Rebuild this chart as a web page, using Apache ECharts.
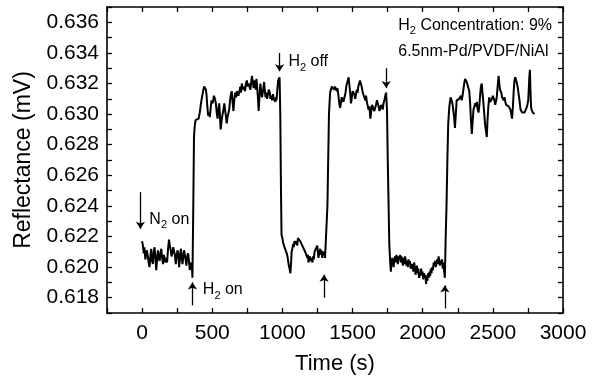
<!DOCTYPE html>
<html lang="en">
<head>
  <meta charset="UTF-8">
  <title>Reflectance vs time</title>
  <script src="https://cdn.jsdelivr.net/npm/echarts@6/dist/echarts.min.js"></script>
  <style>
    html, body { margin: 0; background: #fff; }
    #main { width: 598px; height: 382px; }
  </style>
</head>
<body>
  <div id="main"></div>
  <script>
    // reflectance trace [time (s), reflectance (mV)], split by gas phase
    const n2Baseline = [
      [0, .6217], [6, .6214], [12, .6209], [17, .6213], [23, .6205], [29, .6206], [35, .6211], [41, .6212],
      [47, .6203], [53, .6200], [59, .6207], [65, .6212], [71, .6204], [77, .6202], [83, .6210], [89, .6213],
      [95, .6206], [101, .6198], [107, .6205], [113, .6211], [119, .6207], [125, .6204], [131, .6209], [137, .6212],
      [143, .6206], [149, .6202], [155, .6208], [161, .6209], [167, .6203], [173, .6206], [178, .6203], [185, .6212],
      [192, .6218], [198, .6214], [204, .6211], [210, .6207], [216, .6209], [222, .6213], [228, .6214], [234, .6208],
      [240, .6202], [246, .6207], [252, .6211], [258, .6209], [264, .6200], [270, .6205], [276, .6212], [282, .6208],
      [288, .6202], [294, .6207], [299, .6211], [304, .6210], [310, .6205], [316, .6201], [322, .6207], [328, .6209],
      [334, .6204], [340, .6198], [346, .6203], [352, .6204], [356, .6199], [359, .6193]
    ]
    const firstH2 = [
      [365, .6240], [370, .6285], [375, .6292], [381, .6296], [387, .6297], [395, .6296], [403, .6297], [411, .6301],
      [417, .6305], [423, .6309], [429, .6312], [435, .6315], [442, .6318], [450, .6319], [455, .6316], [459, .6313],
      [465, .6305], [471, .6299], [477, .6301], [483, .6298], [489, .6304], [495, .6309], [503, .6307], [512, .6312],
      [519, .6310], [526, .6307], [532, .6301], [538, .6297], [544, .6303], [550, .6307], [555, .6299], [560, .6290],
      [567, .6296], [574, .6300], [580, .6303], [586, .6307], [591, .6307], [597, .6299], [603, .6294], [609, .6298],
      [615, .6297], [621, .6303], [627, .6309], [633, .6313], [639, .6315], [645, .6308], [651, .6302], [657, .6309],
      [663, .6314], [670, .6311], [676, .6315], [680, .6316], [687, .6312], [694, .6315], [700, .6318], [705, .6314],
      [711, .6320], [717, .6316], [722, .6318], [728, .6319], [734, .6315], [740, .6320], [747, .6322], [753, .6318],
      [760, .6320], [767, .6320], [772, .6316], [778, .6321], [783, .6325], [789, .6321], [795, .6317], [800, .6322],
      [806, .6320], [811, .6316], [815, .6323], [820, .6318], [826, .6310], [831, .6302], [837, .6312], [843, .6320],
      [849, .6315], [855, .6311], [860, .6314], [866, .6318], [870, .6321], [874, .6316], [880, .6311], [886, .6314],
      [891, .6310], [897, .6313], [903, .6316], [910, .6314], [915, .6310], [921, .6312], [927, .6309], [933, .6313],
      [938, .6310], [944, .6311], [950, .6308], [955, .6311], [958, .6309], [964, .6316], [970, .6322], [976, .6323],
      [980, .6324], [985, .6300]
    ]
    const firstOff = [
      [990, .6250], [994, .6221], [1000, .6219], [1005, .6216], [1010, .6215], [1015, .6213], [1020, .6214], [1026, .6212],
      [1031, .6209], [1036, .6207], [1041, .6206], [1046, .6201], [1051, .6199], [1057, .6196], [1062, .6203], [1066, .6210],
      [1071, .6212], [1076, .6215], [1081, .6213], [1086, .6217], [1091, .6218], [1096, .6215], [1101, .6217], [1106, .6214],
      [1111, .6219], [1116, .6220], [1122, .6220], [1127, .6217], [1132, .6218], [1137, .6215], [1142, .6216], [1147, .6213],
      [1152, .6214], [1157, .6211], [1162, .6212], [1167, .6209], [1172, .6210], [1177, .6206], [1182, .6208], [1186, .6203],
      [1190, .6202], [1195, .6207], [1200, .6208], [1205, .6204], [1210, .6206], [1214, .6203], [1219, .6207], [1224, .6205],
      [1229, .6210], [1234, .6209], [1239, .6212], [1244, .6213], [1249, .6214], [1253, .6210], [1257, .6206], [1261, .6205],
      [1265, .6210], [1270, .6212], [1274, .6208], [1279, .6211], [1284, .6206], [1289, .6210], [1294, .6208], [1299, .6210],
      [1304, .6206], [1309, .6205], [1314, .6207], [1318, .6206]
    ]
    const secondH2 = [
      [1321, .6240], [1325, .6262], [1332, .6300], [1340, .6314], [1346, .6316], [1352, .6318], [1357, .6317], [1363, .6319],
      [1369, .6316], [1375, .6318], [1381, .6318], [1387, .6315], [1392, .6317], [1397, .6314], [1402, .6310], [1407, .6306],
      [1412, .6304], [1418, .6308], [1423, .6311], [1429, .6311], [1435, .6308], [1440, .6310], [1445, .6309], [1450, .6314],
      [1455, .6318], [1460, .6320], [1466, .6322], [1472, .6324], [1477, .6325], [1483, .6314], [1489, .6307], [1495, .6311],
      [1501, .6315], [1508, .6316], [1513, .6313], [1519, .6310], [1525, .6313], [1530, .6316], [1536, .6314], [1541, .6318],
      [1547, .6320], [1553, .6322], [1560, .6323], [1565, .6318], [1571, .6315], [1577, .6313], [1584, .6311], [1591, .6309],
      [1596, .6312], [1602, .6308], [1608, .6307], [1614, .6303], [1620, .6305], [1627, .6297], [1633, .6302], [1639, .6306],
      [1644, .6307], [1650, .6305], [1655, .6302], [1661, .6301], [1667, .6306], [1674, .6309], [1680, .6309], [1686, .6305],
      [1692, .6302], [1699, .6302], [1704, .6306], [1709, .6305], [1715, .6303], [1721, .6307], [1727, .6309], [1733, .6312],
      [1739, .6314], [1743, .6308], [1746, .6301]
    ]
    const secondOff = [
      [1751, .6270], [1756, .6245], [1762, .6215], [1768, .6204], [1773, .6197], [1778, .6203], [1783, .6206], [1788, .6204],
      [1793, .6200], [1798, .6205], [1803, .6207], [1808, .6203], [1813, .6208], [1818, .6206], [1823, .6202], [1828, .6207],
      [1834, .6205], [1839, .6208], [1844, .6203], [1849, .6207], [1854, .6206], [1859, .6201], [1864, .6206], [1869, .6202],
      [1874, .6207], [1879, .6205], [1884, .6201], [1889, .6204], [1894, .6200], [1899, .6205], [1904, .6202], [1909, .6204],
      [1914, .6199], [1919, .6198], [1924, .6202], [1929, .6201], [1934, .6197], [1939, .6203], [1944, .6200], [1949, .6195],
      [1954, .6198], [1959, .6201], [1964, .6196], [1969, .6199], [1974, .6193], [1979, .6196], [1984, .6194], [1989, .6199],
      [1994, .6195], [1999, .6197], [2004, .6192], [2009, .6196], [2014, .6193], [2019, .6195], [2024, .6189], [2028, .6194],
      [2033, .6191], [2038, .6196], [2043, .6193], [2048, .6197], [2053, .6194], [2058, .6199], [2063, .6196], [2068, .6200],
      [2073, .6198], [2078, .6203], [2083, .6201], [2088, .6204], [2093, .6200], [2098, .6202], [2103, .6205], [2108, .6202],
      [2113, .6207], [2118, .6205], [2123, .6201], [2128, .6204], [2133, .6202], [2138, .6205], [2143, .6199], [2148, .6203],
      [2153, .6197], [2158, .6193]
    ]
    const thirdH2 = [
      [2164, .6220], [2170, .6241], [2176, .6270], [2182, .6294], [2190, .6305], [2199, .6311], [2206, .6311], [2212, .6307],
      [2218, .6307], [2224, .6298], [2230, .6291], [2236, .6300], [2242, .6309], [2248, .6309], [2254, .6309], [2260, .6310],
      [2266, .6309], [2272, .6312], [2278, .6309], [2284, .6312], [2290, .6316], [2296, .6320], [2302, .6323], [2308, .6322],
      [2314, .6321], [2320, .6322], [2326, .6322], [2332, .6315], [2338, .6307], [2344, .6296], [2350, .6287], [2356, .6295],
      [2362, .6303], [2368, .6305], [2374, .6307], [2380, .6305], [2386, .6308], [2392, .6303], [2398, .6301], [2404, .6306],
      [2410, .6313], [2415, .6318], [2421, .6320], [2427, .6313], [2433, .6307], [2439, .6300], [2445, .6293], [2451, .6289],
      [2457, .6285], [2462, .6296], [2468, .6305], [2474, .6311], [2480, .6308], [2488, .6307], [2494, .6310], [2500, .6312],
      [2505, .6313], [2511, .6309], [2517, .6306], [2522, .6307], [2528, .6311], [2534, .6318], [2538, .6322], [2541, .6325],
      [2546, .6320], [2551, .6316], [2556, .6315], [2560, .6314], [2566, .6311], [2572, .6310], [2577, .6309], [2583, .6311],
      [2589, .6308], [2595, .6306], [2601, .6305], [2607, .6307], [2613, .6305], [2619, .6304], [2625, .6303], [2631, .6300],
      [2637, .6297], [2643, .6305], [2648, .6314], [2654, .6322], [2660, .6324], [2666, .6325], [2672, .6320], [2678, .6317],
      [2684, .6316], [2690, .6309], [2697, .6303], [2703, .6302], [2709, .6301], [2713, .6300], [2719, .6301], [2726, .6301],
      [2733, .6301], [2740, .6304], [2746, .6306], [2752, .6309], [2756, .6316], [2760, .6324], [2764, .6329], [2768, .6316],
      [2772, .6305], [2776, .6303], [2781, .6302], [2785, .6301], [2791, .6302], [2796, .6300], [2800, .6300]
    ]

    // arrows: [from, to] in data units (arrowhead at "to")
    const arrows = [
      [[-12, .6249], [-12, .6225]],
      [[359, .6175], [359, .6190]],
      [[980, .6340], [980, .6328]],
      [[1297, .6180], [1297, .6195]],
      [[1740, .6330], [1740, .6317]],
      [[2158, .6173], [2158, .6188]]
    ]
    // text notes, anchored at their left edge
    const notes = [
      { at: [52, .6231], text: '{n|N}{s|2}{n| on}' },
      { at: [433, .6185], text: '{n|H}{s|2}{n| on}' },
      { at: [1043, .6334], text: '{n|H}{s|2}{n| off}' },
      { at: [1826, .6358], text: '{n|H}{s|2}{n| Concentration: 9%}' },
      { at: [1826, .6341], text: '{n|6.5nm-Pd/PVDF/NiAl}' }
    ]

    const FONT = '"Liberation Sans", Arial, Helvetica, sans-serif'
    const axisLine = { show: true, onZero: false, lineStyle: { color: '#000', width: 1.6 } }
    const axisTick = { show: true, inside: true, length: 5, lineStyle: { color: '#000', width: 1.3 } }

    const trace = [].concat(n2Baseline, firstH2, firstOff, secondH2, secondOff, thirdH2)

    const chart = echarts.init(document.getElementById('main'))
    chart.setOption({
      animation: false,
      backgroundColor: '#fff',
      grid: { left: 107, right: 35, top: 7, bottom: 69 },
      xAxis: [{
        type: 'value', min: -250, max: 3000, interval: 250,
        axisLine: axisLine, axisTick: axisTick, splitLine: { show: false },
        axisLabel: {
          color: '#000', fontSize: 21, fontFamily: FONT, margin: 10,
          formatter: v => (v % 500 === 0 ? String(v) : '')
        },
        name: 'Time (s)', nameLocation: 'middle', nameGap: 40,
        nameTextStyle: { color: '#000', fontSize: 22, fontFamily: FONT }
      }, {
        type: 'value', position: 'top', min: -250, max: 3000, interval: 250,
        axisLine: axisLine, axisTick: axisTick, axisLabel: { show: false }, splitLine: { show: false }
      }],
      yAxis: [{
        type: 'value', min: 0.617, max: 0.637, interval: 0.001,
        axisLine: axisLine, axisTick: axisTick, splitLine: { show: false },
        axisLabel: {
          color: '#000', fontSize: 21, fontFamily: FONT, margin: 8,
          formatter: v => {
            const k = Math.round(v * 1000)
            return k % 2 === 0 ? (k / 1000).toFixed(3) : ''
          }
        },
        name: 'Reflectance (mV)', nameLocation: 'middle', nameGap: 67,
        nameTextStyle: { color: '#000', fontSize: 23, fontFamily: FONT }
      }, {
        type: 'value', position: 'right', min: 0.617, max: 0.637, interval: 0.001,
        axisLine: axisLine, axisTick: axisTick, axisLabel: { show: false }, splitLine: { show: false }
      }],
      series: [{
        type: 'line',
        data: trace,
        showSymbol: false,
        lineStyle: { color: '#000', width: 2 },
        markLine: {
          silent: true,
          symbol: ['none', 'arrow'],
          symbolSize: 7,
          label: { show: false },
          lineStyle: { color: '#000', width: 1.3, type: 'solid' },
          data: arrows.map(a => [{ coord: a[0] }, { coord: a[1] }])
        },
        markPoint: {
          silent: true,
          symbol: 'circle',
          symbolSize: 0,
          label: {
            show: true, position: 'right', distance: 0,
            rich: {
              n: { color: '#000', fontFamily: FONT, fontSize: 16, lineHeight: 22, verticalAlign: 'middle' },
              s: { color: '#000', fontFamily: FONT, fontSize: 11, lineHeight: 11, verticalAlign: 'bottom' }
            }
          },
          data: notes.map(d => ({ coord: d.at, label: { formatter: d.text } }))
        }
      }]
    })
  </script>
</body>
</html>
